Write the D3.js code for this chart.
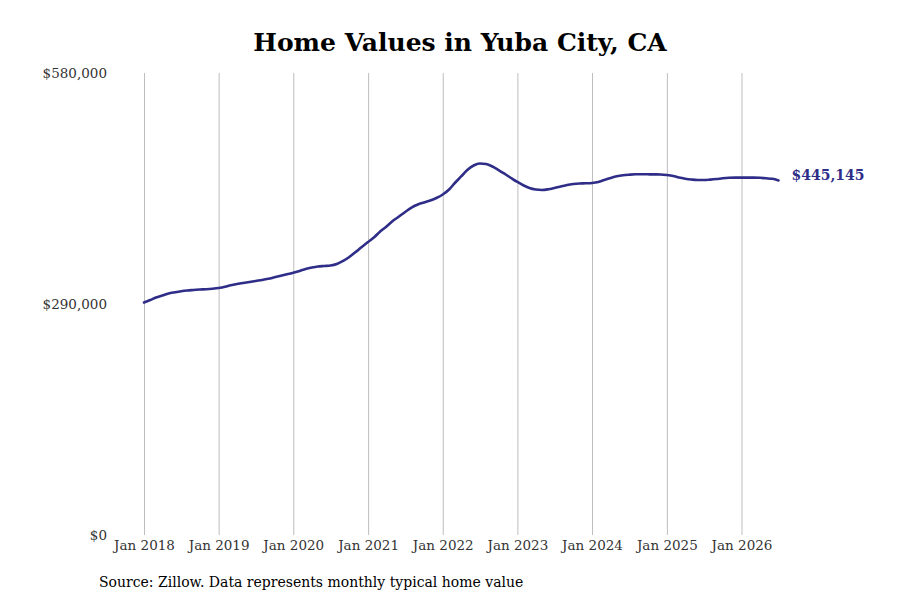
<!DOCTYPE html>
<html>
<head>
<meta charset="utf-8">
<script src="https://cdn.jsdelivr.net/npm/d3@7"></script>
<style>
  body { margin: 0; background: #fff; }
  text { font-family: "DejaVu Serif", serif; }
</style>
</head>
<body>
<div id="container"></div>
<script>
let w = 900;
let h = 600;

let chartTitle = "Home Values in Yuba City, CA";
let sourceNote = "Source: Zillow. Data represents monthly typical home value";

// monthly typical home value, Jan 2018 onward
let startMonth = "2018-01";
let homeValues = [
  291900, 295000, 298200, 300700, 303200, 304700, 306000, 307000, 307600, 308200, 308600, 309200,
  310100, 311600, 313500, 315100, 316400, 317600, 318900, 320100, 321600, 323500, 325400, 327300,
  329200, 331400, 333900, 335800, 337100, 337700, 338300, 340200, 344000, 349000, 355300, 361600,
  367800, 374100, 381000, 387300, 394200, 399800, 405500, 411100, 414900, 417400, 419900, 423100,
  427500, 433700, 441900, 450100, 458200, 463900, 466400, 465700, 462600, 458200, 453200, 448200,
  443200, 438800, 435600, 433700, 433100, 434000, 435600, 437500, 439400, 440600, 441300, 441500,
  441900, 443200, 445700, 448200, 450300, 451600, 452300, 452800, 452900, 452800, 452700, 452600,
  451900, 450700, 448800, 447300, 446300, 445700, 445700, 446200, 446900, 447800, 448400, 448600,
  448600, 448600, 448700, 448400, 447800, 447200, 445145
];

let yTicks = [0, 290000, 580000];
let xTickYears = [2018, 2019, 2020, 2021, 2022, 2023, 2024, 2025, 2026];

let parseMonth = d3.timeParse("%Y-%m");
let firstDate = parseMonth(startMonth);
let data = homeValues.map(function(v, i){
  return { date: d3.timeMonth.offset(firstDate, i), value: v };
});

let viz = d3.select("#container")
  .append("svg")
    .attr("width", w)
    .attr("height", h)
;

// title
viz.append("text")
  .attr("x", 460)
  .attr("y", 51)
  .attr("text-anchor", "middle")
  .attr("font-size", 25)
  .attr("font-weight", "bold")
  .attr("fill", "#000")
  .text(chartTitle);

// scales
let xScale = d3.scaleTime()
  .domain([new Date(2018, 0, 1), new Date(2026, 0, 1)])
  .range([144, 741.5]);
let yScale = d3.scaleLinear().domain([0, 580000]).range([535, 73]);

// vertical grid + x labels
let xAxis = d3.axisBottom(xScale)
  .tickValues(xTickYears.map(function(y){ return new Date(y, 0, 1); }))
  .tickSize(-(535 - 73))
  .tickPadding(5)
  .tickFormat(d3.timeFormat("Jan %Y"));

let xAxisGroup = viz.append("g")
  .attr("class", "xaxis")
  .attr("transform", "translate(0,535)")
  .call(xAxis);
xAxisGroup.select(".domain").remove();
xAxisGroup.selectAll(".tick line").attr("stroke", "#bdbdbd").attr("stroke-width", 1);
xAxisGroup.selectAll(".tick text")
  .attr("font-family", "DejaVu Serif")
  .attr("font-size", 13.5)
  .attr("fill", "#333");

// y labels only
let yAxis = d3.axisLeft(yScale)
  .tickValues(yTicks)
  .tickSize(0)
  .tickPadding(0)
  .tickFormat(function(d){ return "$" + d3.format(",")(d); });

let yAxisGroup = viz.append("g")
  .attr("class", "yaxis")
  .attr("transform", "translate(107,0)")
  .call(yAxis);
yAxisGroup.select(".domain").remove();
yAxisGroup.selectAll(".tick text")
  .attr("font-family", "DejaVu Serif")
  .attr("font-size", 13.5)
  .attr("fill", "#333");

// line
let line = d3.line()
  .x(function(d){ return xScale(d.date); })
  .y(function(d){ return yScale(d.value); })
  .curve(d3.curveMonotoneX);

viz.append("path")
  .datum(data)
  .attr("fill", "none")
  .attr("stroke", "#2e2d88")
  .attr("stroke-width", 2.6)
  .attr("stroke-linejoin", "round")
  .attr("stroke-linecap", "round")
  .attr("d", line);

// end label
let last = data[data.length - 1];
viz.append("text")
  .attr("x", xScale(last.date) + 13)
  .attr("y", yScale(last.value) - 5)
  .attr("dy", "0.35em")
  .attr("font-size", 14)
  .attr("font-weight", "bold")
  .attr("fill", "#2e2d88")
  .text("$" + d3.format(",")(last.value));

// source
viz.append("text")
  .attr("x", 99)
  .attr("y", 587)
  .attr("font-size", 14)
  .attr("fill", "#000")
  .text(sourceNote);
</script>
</body>
</html>
